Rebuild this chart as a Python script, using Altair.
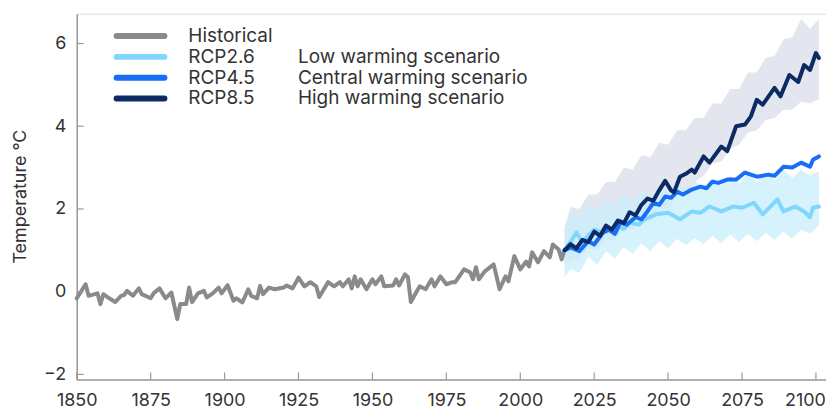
import altair as alt
import pandas as pd

# ---------------- data ----------------
hist_years = [1850, 1853, 1854, 1857, 1858, 1859, 1861, 1863, 1865, 1866, 1867, 1869,
              1871, 1872, 1875, 1876, 1878, 1880, 1882, 1884, 1885, 1887, 1888, 1889,
              1891, 1893, 1894, 1896, 1898, 1899, 1901, 1903, 1904, 1906, 1908, 1909,
              1911, 1912, 1913, 1915, 1917, 1920, 1921, 1923, 1925, 1927, 1929, 1931,
              1932, 1935, 1937, 1939, 1940, 1942, 1943, 1944, 1945, 1946, 1948, 1950,
              1951, 1953, 1954, 1957, 1958, 1959, 1961, 1962, 1963, 1965, 1966, 1968,
              1970, 1971, 1973, 1975, 1977, 1978, 1981, 1983, 1984, 1985, 1986, 1988,
              1991, 1993, 1995, 1996, 1998, 2000, 2002, 2003, 2004, 2006, 2008, 2010,
              2011, 2013, 2014, 2015]
hist_vals = [-0.16, 0.18, -0.10, -0.04, -0.30, -0.06, -0.16, -0.25, -0.10, -0.08, 0.02, -0.10,
             0.08, -0.06, -0.16, -0.04, 0.08, -0.16, -0.02, -0.66, -0.30, -0.30, 0.10, -0.25,
             -0.04, 0.02, -0.14, -0.04, 0.10, -0.04, 0.16, -0.22, -0.16, -0.26, 0.06, -0.10,
             -0.16, 0.14, -0.06, 0.10, 0.06, 0.10, 0.15, 0.08, 0.34, 0.13, 0.23, 0.13,
             -0.13, 0.23, 0.13, 0.23, 0.13, 0.30, 0.08, 0.37, 0.13, 0.30, 0.06, 0.30,
             0.18, 0.37, 0.13, 0.15, 0.30, 0.15, 0.42, 0.35, -0.25, 0.01, 0.13, 0.06,
             0.30, 0.13, 0.37, 0.18, 0.23, 0.23, 0.54, 0.47, 0.30, 0.59, 0.30, 0.49,
             0.66, 0.06, 0.37, 0.25, 0.86, 0.54, 0.73, 0.61, 0.95, 0.71, 0.98, 0.83,
             1.14, 1.02, 0.78, 1.02]

rcp26_years = [2015, 2019, 2021, 2025, 2028, 2033, 2035, 2037, 2040, 2042, 2046, 2050,
               2054, 2058, 2061, 2064, 2068, 2072, 2075, 2079, 2082, 2087, 2089, 2093,
               2096, 2098, 2099, 2101]
rcp26_vals = [0.98, 1.43, 1.20, 1.50, 1.43, 1.58, 1.52, 1.67, 1.62, 1.75, 1.87, 1.91,
              1.75, 1.94, 1.91, 2.06, 1.94, 2.06, 2.03, 2.15, 1.87, 2.23, 1.94, 2.06,
              1.94, 1.80, 2.03, 2.06]

rcp45_years = [2015, 2017, 2020, 2023, 2025, 2028, 2030, 2032, 2034, 2036, 2039, 2041,
               2043, 2045, 2047, 2049, 2051, 2053, 2055, 2058, 2061, 2063, 2065, 2067,
               2070, 2073, 2076, 2080, 2084, 2086, 2089, 2092, 2095, 2098, 2099, 2101]
rcp45_vals = [1.00, 1.07, 0.98, 1.22, 1.14, 1.43, 1.50, 1.40, 1.70, 1.62, 1.80, 1.75,
              1.94, 2.15, 2.10, 2.30, 2.27, 2.42, 2.35, 2.47, 2.54, 2.50, 2.66, 2.63,
              2.71, 2.71, 2.88, 2.78, 2.83, 2.80, 3.02, 3.00, 3.12, 3.02, 3.19, 3.27]

rcp85_years = [2015, 2017, 2019, 2021, 2023, 2025, 2027, 2029, 2031, 2033, 2035, 2037,
               2039, 2041, 2043, 2045, 2047, 2049, 2051, 2052, 2054, 2056, 2058, 2059,
               2062, 2064, 2068, 2070, 2073, 2076, 2078, 2080, 2082, 2086, 2088, 2091,
               2094, 2096, 2098, 2100, 2101]
rcp85_vals = [1.00, 1.15, 1.05, 1.25, 1.20, 1.45, 1.35, 1.60, 1.50, 1.72, 1.65, 1.92,
              1.85, 2.10, 2.25, 2.20, 2.45, 2.68, 2.45, 2.40, 2.78, 2.85, 2.95, 2.88,
              3.27, 3.12, 3.51, 3.40, 4.00, 4.04, 4.24, 4.64, 4.52, 4.93, 4.72, 5.24,
              5.07, 5.48, 5.36, 5.77, 5.65]

band_years = [2015, 2017, 2020, 2023, 2026, 2029, 2032, 2035, 2038, 2041, 2044, 2047,
              2050, 2053, 2056, 2059, 2062, 2065, 2068, 2071, 2074, 2077, 2080, 2083,
              2086, 2089, 2092, 2095, 2098, 2101]
rcp26_lo = [0.35, 0.55, 0.45, 0.85, 0.65, 0.98, 0.80, 1.08, 0.92, 1.16, 0.98, 1.22,
            1.05, 1.28, 1.12, 1.30, 1.15, 1.36, 1.18, 1.38, 1.20, 1.40, 1.22, 1.42,
            1.25, 1.45, 1.28, 1.50, 1.40, 1.60]
rcp26_hi = [1.55, 1.95, 1.80, 2.10, 1.95, 2.25, 2.10, 2.35, 2.20, 2.45, 2.30, 2.55,
            2.38, 2.62, 2.45, 2.68, 2.52, 2.75, 2.58, 2.80, 2.62, 2.86, 2.66, 2.90,
            2.70, 2.95, 2.75, 2.95, 2.80, 2.92]
rcp85_lo = [0.60, 0.75, 0.80, 1.05, 1.00, 1.25, 1.25, 1.50, 1.50, 1.75, 1.75, 2.00,
            2.00, 2.30, 2.35, 2.65, 2.80, 3.10, 3.15, 3.45, 3.55, 3.85, 3.90, 4.15,
            4.20, 4.40, 4.40, 4.60, 4.55, 4.65]
rcp85_hi = [1.55, 2.05, 2.00, 2.35, 2.35, 2.65, 2.65, 3.00, 2.95, 3.30, 3.25, 3.60,
            3.55, 3.90, 3.90, 4.20, 4.20, 4.55, 4.55, 4.90, 4.90, 5.30, 5.30, 5.65,
            5.70, 6.10, 6.15, 6.60, 6.35, 6.60]

x_ticks = [1850, 1875, 1900, 1925, 1950, 1975, 2000, 2025, 2050, 2075, 2100]
y_ticks = [-2, 0, 2, 4, 6]

legend_names = ["Historical", "RCP2.6", "RCP4.5", "RCP8.5"]
legend_colors = ["#8a8a8a", "#80d6fd", "#1a6ef5", "#0c2a63"]
desc_names = ["RCP2.6", "RCP4.5", "RCP8.5"]
desc_texts = ["Low warming scenario", "Central warming scenario", "High warming scenario"]

# ---------------- styling ----------------
W, H = 752, 367
FONT = "Inter"
TXT = "#333333"
AX = "#9a9a9a"
TITLE = "Temperature °C"

xscale = alt.Scale(domain=[1850, 2103.4], nice=False, zero=False)
yscale = alt.Scale(domain=[-2.12, 6.72], nice=False, zero=False)

xaxis = alt.Axis(values=x_ticks, format="d", ticks=False, tickSize=0, grid=False,
                 domainColor=AX, domainWidth=1.5, labelFont=FONT, labelFontSize=18,
                 labelColor=TXT, labelPadding=12, labelFlush=False, labelOverlap=False,
                 labelOffset={"condition": {"test": "datum.value == 2100", "value": -11},
                              "value": 0})
yaxis = alt.Axis(values=y_ticks, ticks=False, tickSize=0, grid=False,
                 domainColor=AX, domainWidth=1.5, labelFont=FONT, labelFontSize=18,
                 labelColor=TXT, labelPadding=11, labelFlush=False, labelOverlap=False,
                 titleFont=FONT, titleFontSize=18, titleFontWeight="normal",
                 titleColor=TXT, titleX=-51, titleY=183, titleBaseline="alphabetic")


def X(field):
    return alt.X(field, type="quantitative", scale=xscale, axis=xaxis, title=None)


def Y(field):
    return alt.Y(field, type="quantitative", scale=yscale, axis=yaxis, title=TITLE)


hist_df = pd.DataFrame({"year": hist_years, "value": hist_vals})
r26_df = pd.DataFrame({"year": rcp26_years, "value": rcp26_vals})
r45_df = pd.DataFrame({"year": rcp45_years, "value": rcp45_vals})
r85_df = pd.DataFrame({"year": rcp85_years, "value": rcp85_vals})
band_df = pd.DataFrame({"year": band_years, "lo26": rcp26_lo, "hi26": rcp26_hi,
                        "lo85": rcp85_lo, "hi85": rcp85_hi})
xt_df = pd.DataFrame({"year": x_ticks})
yt_df = pd.DataFrame({"v": y_ticks})

band85 = alt.Chart(band_df).mark_area(color="#e3e6ee", opacity=1).encode(
    x=X("year"), y=Y("lo85"), y2="hi85")
band26 = alt.Chart(band_df).mark_area(color="#c8edfb", opacity=0.75).encode(
    x=X("year"), y=Y("lo26"), y2="hi26")


def line(df, color, w=4):
    return alt.Chart(df).mark_line(color=color, strokeWidth=w, strokeJoin="round",
                                   strokeCap="round").encode(x=X("year"), y=Y("value"))


hist = line(hist_df, legend_colors[0], 4)
l26 = line(r26_df, legend_colors[1], 4)
l45 = line(r45_df, legend_colors[2], 4)
l85 = line(r85_df, legend_colors[3], 4)

yt = alt.Chart(yt_df).mark_rule(color=AX, strokeWidth=1.2).encode(
    y=Y("v"), x=alt.value(0), x2=alt.value(7))
xt = alt.Chart(xt_df).mark_rule(color=AX, strokeWidth=1.2).encode(
    x=X("year"), y=alt.value(H), y2=alt.value(H - 7))

plot = alt.layer(band85, band26, hist, l26, l45, l85, yt, xt)

leg_df = pd.DataFrame({"name": legend_names})
desc_df = pd.DataFrame({"name": desc_names, "desc": desc_texts})
leg_y = alt.Y("name:N", scale=alt.Scale(domain=legend_names, range=[12, 95.5], padding=0),
              axis=None)
leg_color = alt.Color("name:N", scale=alt.Scale(domain=legend_names, range=legend_colors),
                      legend=None)

leg_rule = alt.Chart(leg_df).mark_rule(strokeWidth=6, strokeCap="round").encode(
    x=alt.value(40), x2=alt.value(88), y=leg_y, color=leg_color)
leg_text = alt.Chart(leg_df).mark_text(align="left", baseline="middle", font=FONT,
                                       fontSize=19, color=TXT).encode(
    x=alt.value(112), y=leg_y, text="name:N")
leg_desc = alt.Chart(desc_df).mark_text(align="left", baseline="middle", font=FONT,
                                        fontSize=19, color=TXT).encode(
    x=alt.value(222), y=leg_y, text="desc:N")

legend = alt.layer(leg_rule, leg_text, leg_desc)

chart = alt.layer(plot, legend).resolve_scale(y="independent", color="independent").properties(
    width=W, height=H,
    padding={"left": 69, "top": 5, "right": 0, "bottom": 34},
    autosize=alt.AutoSizeParams(type="none"),
).configure_view(stroke=None).configure(background="white")

chart.save("out.html", embed_options={"renderer": "svg", "actions": False})
